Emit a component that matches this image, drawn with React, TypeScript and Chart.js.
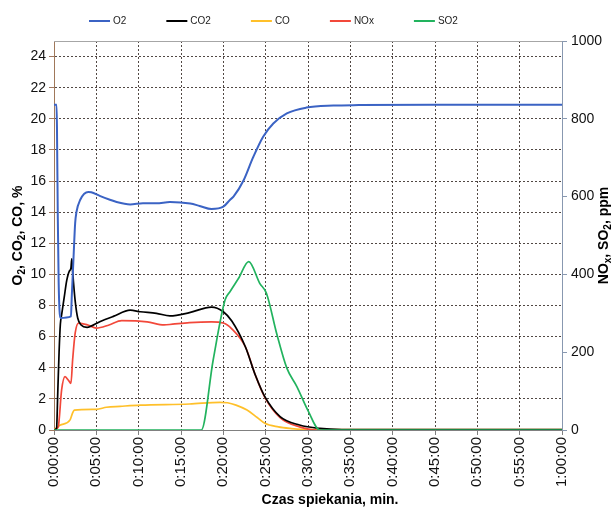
import React, { useEffect, useRef } from "react";
import { Chart, registerables } from "chart.js";

Chart.register(...registerables);

// ---------- data (time in minutes) ----------
const X_TICKS = [0, 5, 10, 15, 20, 25, 30, 35, 40, 45, 50, 55, 60];
const LEFT_TICKS = [0, 2, 4, 6, 8, 10, 12, 14, 16, 18, 20, 22, 24];
const RIGHT_TICKS = [0, 200, 400, 600, 800, 1000];

const O2_T = [0, 0.3, 0.35, 0.45, 0.55, 0.75, 2.0, 2.1, 2.3, 2.5, 2.65, 3.1, 4.05, 4.4, 5.4, 6.6, 7.4, 9, 10.5, 12.1, 13.7, 16.1, 17.2, 18.6, 20, 20.8, 21.2, 22.4, 23.5, 24.7, 25.9, 27.5, 29.8, 33, 36, 45, 60];
const O2_V = [20.9, 20.9, 19.5, 13.6, 9.5, 7.2, 7.3, 8.6, 11.0, 13.3, 14.0, 14.8, 15.3, 15.28, 15.05, 14.8, 14.65, 14.5, 14.57, 14.57, 14.65, 14.55, 14.4, 14.2, 14.35, 14.8, 15.0, 16.05, 17.5, 18.85, 19.7, 20.35, 20.72, 20.85, 20.88, 20.9, 20.9];

const CO2_T = [0, 0.3, 0.45, 0.6, 0.75, 0.9, 1.2, 1.5, 1.8, 2.0, 2.1, 2.2, 2.5, 2.8, 3.2, 3.9, 5.4, 7, 9, 10.2, 12.1, 13.7, 16, 18.6, 20, 21, 22.6, 23.8, 24.9, 26.7, 29, 31.4, 34, 60];
const CO2_V = [0, 0.1, 2.5, 5.0, 6.8, 7.4, 8.5, 9.6, 10.2, 10.4, 11.0, 10.2, 8.3, 7.2, 6.75, 6.6, 6.96, 7.3, 7.7, 7.6, 7.5, 7.33, 7.54, 7.9, 7.6, 7.0, 5.35, 3.5, 2.14, 0.86, 0.32, 0.1, 0.03, 0.02];

const CO_T = [0, 0.3, 0.7, 1.9, 2.2, 2.4, 5, 6.2, 7.8, 10.2, 16, 19.6, 20.5, 21.5, 22.8, 24, 24.9, 26.5, 27.9, 30, 60];
const CO_V = [0, 0.15, 0.3, 0.65, 1.1, 1.28, 1.33, 1.46, 1.52, 1.6, 1.67, 1.78, 1.75, 1.6, 1.28, 0.8, 0.43, 0.2, 0.1, 0.02, 0.02];

const NOX_T = [0, 0.3, 0.5, 0.9, 1.3, 1.7, 2.0, 2.2, 2.5, 2.9, 4, 5, 6.5, 8, 11, 13, 14, 16, 18.6, 20, 21, 22.6, 23.8, 24.9, 26.7, 29, 31, 60];
const NOX_V = [0, 4, 8, 103, 137, 128, 120, 180, 249, 275, 270, 262, 270, 281, 278, 270, 272, 276, 278, 275, 260, 214, 140, 84, 32, 8, 0, 0];

const SO2_T = [0, 17.4, 18.8, 20.2, 20.8, 21.8, 23.0, 24.3, 25.1, 26.3, 27.5, 28.7, 30, 31.4, 60];
const SO2_V = [0, 0, 180, 334, 356, 390, 433, 377, 351, 248, 159, 111, 50, 0, 0];

// titles as [text, isSubscript] segments
const LEFT_TITLE: [string, boolean][] = [["O", false], ["2", true], [", CO", false], ["2", true], [", CO, %", false]];
const RIGHT_TITLE: [string, boolean][] = [["NO", false], ["x", true], [", SO", false], ["2", true], [", ppm", false]];
const X_TITLE = "Czas spiekania, min.";

const FONT = "'Liberation Sans', Arial, sans-serif";

const pts = (t: number[], v: number[]) => t.map((x, i) => ({ x, y: v[i] }));

function fmtTime(m: number) {
  const h = Math.floor(m / 60);
  const mm = Math.round(m % 60);
  return `${h}:${String(mm).padStart(2, "0")}:00`;
}

const GRID_COLOR = "rgba(50,40,35,0.85)";

function drawRich(ctx: CanvasRenderingContext2D, segs: [string, boolean][], cx: number, cy: number) {
  const main = `bold 14px ${FONT}`;
  const sub = `bold 10px ${FONT}`;
  let total = 0;
  segs.forEach(([t, s]) => {
    ctx.font = s ? sub : main;
    total += ctx.measureText(t).width;
  });
  ctx.save();
  ctx.translate(cx, cy);
  ctx.rotate(-Math.PI / 2);
  ctx.textAlign = "left";
  ctx.textBaseline = "alphabetic";
  let x = -total / 2;
  segs.forEach(([t, s]) => {
    ctx.font = s ? sub : main;
    ctx.fillText(t, x, s ? 8 : 5);
    x += ctx.measureText(t).width;
  });
  ctx.restore();
}

const decor = {
  id: "decor",
  beforeDatasetsDraw(chart: any) {
    const { ctx, chartArea: a } = chart;
    ctx.save();
    ctx.strokeStyle = "#a6a6a6";
    ctx.lineWidth = 1;
    ctx.beginPath();
    ctx.moveTo(a.left, a.top + 0.5);
    ctx.lineTo(a.right, a.top + 0.5);
    ctx.stroke();
    ctx.restore();
  },
  afterDraw(chart: any) {
    const { ctx, chartArea: a } = chart;
    const midY = (a.top + a.bottom) / 2;
    ctx.save();
    ctx.fillStyle = "#000";
    drawRich(ctx, LEFT_TITLE, 17, midY);
    drawRich(ctx, RIGHT_TITLE, 603, midY);
    ctx.font = `bold 14px ${FONT}`;
    ctx.textAlign = "center";
    ctx.textBaseline = "middle";
    ctx.fillText(X_TITLE, 330, 500);

    // legend
    ctx.font = `10px ${FONT}`;
    ctx.textAlign = "left";
    let x = 89;
    const y = 21;
    chart.data.datasets.forEach((ds: any) => {
      ctx.strokeStyle = ds.borderColor;
      ctx.lineWidth = 2;
      ctx.beginPath();
      ctx.moveTo(x, y);
      ctx.lineTo(x + 21, y);
      ctx.stroke();
      ctx.fillStyle = "#222";
      ctx.fillText(ds.label, x + 24, y);
      x += 24 + ctx.measureText(ds.label).width + 40;
    });
    ctx.restore();
  },
};

export default function App() {
  const ref = useRef<HTMLCanvasElement>(null);
  useEffect(() => {
    document.body.style.margin = "0";
    const canvas = ref.current!;
    const chart = new Chart(canvas, {
      type: "line",
      data: {
        datasets: [
          { label: "O2", data: pts(O2_T, O2_V), borderColor: "#3b63c4", borderWidth: 2, yAxisID: "y", order: 1 },
          { label: "CO2", data: pts(CO2_T, CO2_V), borderColor: "#000000", borderWidth: 1.7, yAxisID: "y", order: 2 },
          { label: "CO", data: pts(CO_T, CO_V), borderColor: "#ffc02a", borderWidth: 1.7, yAxisID: "y", order: 4 },
          { label: "NOx", data: pts(NOX_T, NOX_V), borderColor: "#f2483a", borderWidth: 1.7, yAxisID: "y1", order: 3 },
          { label: "SO2", data: pts(SO2_T, SO2_V), borderColor: "#22b35e", borderWidth: 1.7, yAxisID: "y1", order: 0 },
        ],
      },
      options: {
        animation: false,
        responsive: false,
        maintainAspectRatio: false,
        layout: { padding: { top: 41, left: 0, right: 0, bottom: 0 } },
        elements: {
          point: { radius: 0 },
          line: { cubicInterpolationMode: "monotone", fill: false },
        },
        plugins: { legend: { display: false }, tooltip: { enabled: false } },
        scales: {
          x: {
            type: "linear",
            min: 0,
            max: 60,
            afterBuildTicks: (s: any) => { s.ticks = X_TICKS.map((v) => ({ value: v })); },
            afterFit: (s: any) => { s.height = 79; },
            ticks: {
              autoSkip: false,
              minRotation: 90,
              maxRotation: 90,
              padding: 2,
              color: "#111",
              font: { family: FONT, size: 15 },
              callback: (v: any) => fmtTime(Number(v)),
            },
            grid: { color: GRID_COLOR, tickColor: "#808080", tickLength: 5, tickBorderDash: [] },
            border: { color: "#808080", dash: [2, 2] },
          },
          y: {
            position: "left",
            min: 0,
            max: 25,
            afterBuildTicks: (s: any) => { s.ticks = LEFT_TICKS.map((v) => ({ value: v })); },
            afterFit: (s: any) => { s.width = 54; },
            ticks: { color: "#111", padding: 3, font: { family: FONT, size: 14 } },
            grid: { color: GRID_COLOR, tickColor: "#a07860", tickLength: 5, tickBorderDash: [] },
            border: { color: "#a0785a", dash: [2, 2] },
          },
          y1: {
            position: "right",
            min: 0,
            max: 1000,
            afterBuildTicks: (s: any) => { s.ticks = RIGHT_TICKS.map((v) => ({ value: v })); },
            afterFit: (s: any) => { s.width = 54; },
            ticks: { color: "#111", padding: 4, font: { family: FONT, size: 14 }, callback: (v: any) => String(v) },
            grid: { drawOnChartArea: false, tickColor: "#8898b0", tickLength: 5 },
            border: { color: "#8898b0" },
          },
        },
      },
      plugins: [decor],
    } as any);
    return () => chart.destroy();
  }, []);
  return <canvas ref={ref} width={616} height={509} style={{ display: "block" }} />;
}
